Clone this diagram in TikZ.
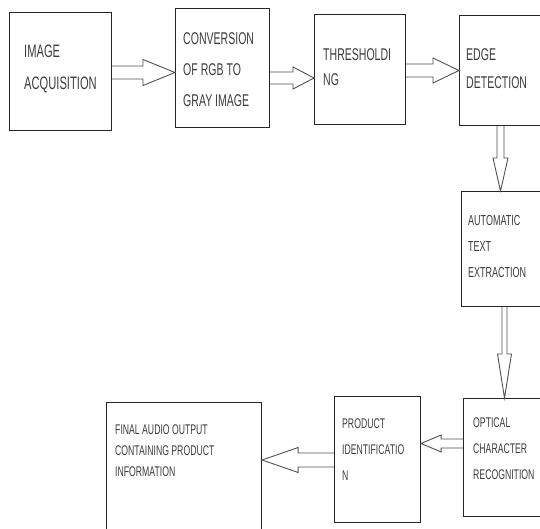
\documentclass[tikz,border=0pt]{standalone}
\usepackage{fontspec}
\usetikzlibrary{calc}
\newfontfamily\cond[FakeStretch=0.62]{Liberation Sans}
\definecolor{txtgray}{HTML}{3C3C3C}
\definecolor{arrgray}{HTML}{505050}
\newcommand\barrow[5]{%
  \coordinate (hb) at ($(#2)!#5!(#1)$);
  \draw[arrowline] ($(#1)!#3!90:(#2)$) -- ($(hb)!#3!90:(#2)$) -- ($(hb)!#4!90:(#2)$)
    -- (#2) -- ($(hb)!#4!-90:(#2)$) -- ($(hb)!#3!-90:(#2)$) -- ($(#1)!#3!-90:(#2)$);
}
\begin{document}
\begin{tikzpicture}[x=1pt,y=-1pt,
  box/.style={draw=black!85, line width=1.1pt, inner sep=0pt, anchor=north west},
  lbl/.style={anchor=north west, inner sep=0pt, align=left, text=txtgray},
  arrowline/.style={draw=arrgray, line width=0.9pt, line join=miter}]
\useasboundingbox (0,0) rectangle (540,529);
% boxes
\node[box, minimum width=102pt, minimum height=118pt] (b1) at (9,12) {};
\node[box, minimum width=94pt, minimum height=119pt] (b2) at (175,8) {};
\node[box, minimum width=91pt, minimum height=110pt] (b3) at (314,14) {};
\node[box, minimum width=90pt, minimum height=110pt] (b4) at (459,15) {};
\node[box, minimum width=90pt, minimum height=115pt] (b5) at (461,191) {};
\node[box, minimum width=90pt, minimum height=118pt] (b6) at (463,398) {};
\node[box, minimum width=86pt, minimum height=126pt] (b7) at (334,396) {};
\node[box, minimum width=155pt, minimum height=135pt] (b8) at (106,402) {};
% labels
\node[lbl, font=\cond\fontsize{18}{32}\selectfont] (t1) at (24,45) {IMAGE\\ACQUISITION};
\node[lbl, font=\cond\fontsize{17}{31}\selectfont] (t2) at (183,32) {CONVERSION\\OF RGB TO\\GRAY IMAGE};
\node[lbl, font=\cond\fontsize{17}{25}\selectfont] (t3) at (323,48) {THRESHOLDI\\NG};
\node[lbl, font=\cond\fontsize{17}{28}\selectfont] (t4) at (466,48) {EDGE\\DETECTION};
\node[lbl, font=\cond\fontsize{14.5}{26}\selectfont] (t5) at (468,215) {AUTOMATIC\\TEXT\\EXTRACTION};
\node[lbl, font=\cond\fontsize{14}{26}\selectfont] (t6) at (473,418) {OPTICAL\\CHARACTER\\RECOGNITION};
\node[lbl, font=\cond\fontsize{14}{26}\selectfont] (t7) at (342,419) {PRODUCT\\IDENTIFICATIO\\N};
\node[lbl, font=\cond\fontsize{14}{21}\selectfont] (t8) at (115,425) {FINAL AUDIO OUTPUT\\CONTAINING PRODUCT\\INFORMATION};
% arrow end points
\coordinate (a1s) at (b1.east |- 0,72.5);  \coordinate (a1e) at (b2.west |- 0,72.5);
\coordinate (a2s) at (b2.east |- 0,78);    \coordinate (a2e) at (b3.west |- 0,78);
\coordinate (a3s) at (b3.east |- 0,70.5);  \coordinate (a3e) at (b4.west |- 0,70.5);
\coordinate (a4s) at (b4.south -| 500.5,0); \coordinate (a4e) at (b5.north -| 500.5,0);
\coordinate (a5s) at (b5.south -| 504.5,0); \coordinate (a5e) at (b6.north -| 504.5,0);
\coordinate (a6s) at (b6.west |- 0,443.5); \coordinate (a6e) at (b7.east |- 0,443.5);
\coordinate (a7s) at (b7.west |- 0,460);   \coordinate (a7e) at (b8.east |- 0,460);
% arrows
\barrow{a1s}{a1e}{6.5pt}{13pt}{32pt}
\barrow{a2s}{a2e}{6pt}{11pt}{21pt}
\barrow{a3s}{a3e}{6.5pt}{12.5pt}{26pt}
\barrow{a4s}{a4e}{3.5pt}{7.5pt}{33pt}
\barrow{a5s}{a5e}{2.5pt}{7pt}{44pt}
\barrow{a6s}{a6e}{4.5pt}{8.5pt}{20pt}
\barrow{a7s}{a7e}{7pt}{12.5pt}{36pt}
\end{tikzpicture}
\end{document}
